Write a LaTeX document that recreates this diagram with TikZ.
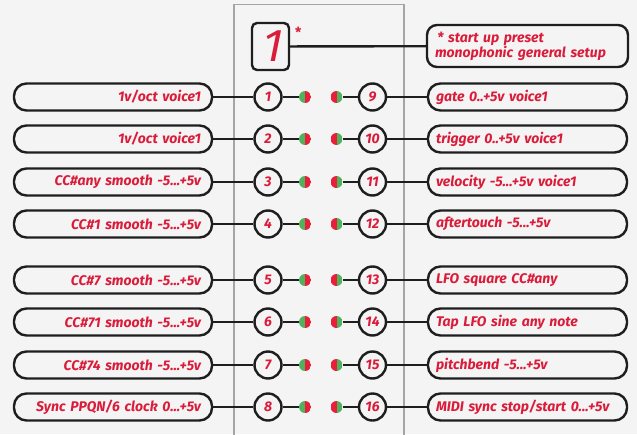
\documentclass[tikz,border=0pt]{standalone}
\usepackage{fontspec}
\setmainfont{Fira Sans}
\usetikzlibrary{positioning}
\definecolor{bg}{RGB}{244,244,244}
\definecolor{panel}{RGB}{165,165,165}
\definecolor{txt}{RGB}{218,28,58}
\definecolor{ledred}{RGB}{232,30,58}
\definecolor{ledgreen}{RGB}{80,178,92}
\definecolor{ink}{RGB}{30,30,30}

\begin{document}
\begin{tikzpicture}[
    x=1pt, y=-1pt,
    lbox/.style={rectangle, draw=ink, line width=2.4pt, rounded corners=12.5pt, minimum width=198pt, minimum height=27pt, inner xsep=11pt, text width=176pt, align=right, text=txt, font=\fontsize{14}{16}\selectfont\bfseries\itshape},
    rbox/.style={lbox, inner xsep=8pt, text width=183pt, align=left},
    pin/.style={circle, draw=ink, line width=2.4pt, minimum size=27pt, inner sep=0pt, text=txt, font=\fontsize{14}{16}\selectfont\bfseries\itshape},
    ledl/.style={circle, minimum size=12pt, inner sep=0pt, path picture={
        \fill[ledgreen] (path picture bounding box.south west) rectangle (path picture bounding box.north);
        \fill[ledred] (path picture bounding box.south) rectangle (path picture bounding box.north east);}},
    ledr/.style={circle, minimum size=12pt, inner sep=0pt, path picture={
        \fill[ledred] (path picture bounding box.south west) rectangle (path picture bounding box.north);
        \fill[ledgreen] (path picture bounding box.south) rectangle (path picture bounding box.north east);}},
    wire/.style={draw=ink, line width=2.4pt}
]

% Background and panel
\fill[bg] (0,0) rectangle (637,434);
\useasboundingbox (0,0) rectangle (637,434);
\draw[panel, line width=1.2pt] (234,4.5) rectangle (404,445);

% Display and preset note
\node[draw=ink, line width=2.4pt, rounded corners=5pt, minimum width=37pt, minimum height=47pt, inner sep=0pt, text=txt, font=\fontsize{46}{46}\selectfont\addfontfeature{FakeSlant=0.2}] (disp) at (270.5,46.5) {1};
\node[text=txt, font=\fontsize{14}{14}\selectfont\bfseries, inner sep=0pt] (star) at ([xshift=8pt,yshift=-11pt]disp.north east) {*};
\node[lbox, rounded corners=10pt, minimum width=201pt, minimum height=42pt, text width=185pt, inner xsep=8pt, align=left, font=\fontsize{14}{15}\selectfont\bfseries\itshape] (note) at (527.5,46) {\,* start up preset\\monophonic general setup};
\draw[wire] (disp) -- (note);

% Left pins
\foreach \n/\y in {1/97, 2/139, 3/182, 4/224, 5/280, 6/322, 7/365, 8/407} {
    \node[pin] (p\n) at (268,\y) {\n};
    \node[ledl] (d\n) at (305,\y) {};
    \draw[wire] (p\n) -- (d\n);
}

% Right pins
\foreach \n/\y in {9/97, 10/139, 11/182, 12/224, 13/280, 14/322, 15/365, 16/407} {
    \node[pin] (p\n) at (372.5,\y) {\n};
    \node[ledr] (d\n) at (336.5,\y) {};
    \draw[wire] (d\n) -- (p\n);
}

% Left labels
\node[lbox] (l1) at (113,97) {1v/oct voice1};
\node[lbox] (l2) at (113,139) {1v/oct voice1};
\node[lbox] (l3) at (113,182) {CC\#any smooth -5...+5v};
\node[lbox] (l4) at (113,224) {CC\#1 smooth -5...+5v};
\node[lbox] (l5) at (113,280) {CC\#7 smooth -5...+5v};
\node[lbox] (l6) at (113,322) {CC\#71 smooth -5...+5v};
\node[lbox] (l7) at (113,365) {CC\#74 smooth -5...+5v};
\node[lbox] (l8) at (113,407) {Sync PPQN/6 clock 0...+5v};

% Right labels
\node[rbox] (r9) at (527.5,97) {gate 0..+5v voice1};
\node[rbox] (r10) at (527.5,139) {trigger 0..+5v voice1};
\node[rbox] (r11) at (527.5,182) {velocity -5...+5v voice1};
\node[rbox] (r12) at (527.5,224) {aftertouch -5...+5v};
\node[rbox] (r13) at (527.5,280) {LFO square CC\#any};
\node[rbox] (r14) at (527.5,322) {Tap LFO sine any note};
\node[rbox] (r15) at (527.5,365) {pitchbend -5...+5v};
\node[rbox] (r16) at (527.5,407) {MIDI sync stop/start 0...+5v};

% Wires to labels
\foreach \n in {1,...,8} \draw[wire] (l\n) -- (p\n);
\foreach \n in {9,...,16} \draw[wire] (p\n) -- (r\n);

\end{tikzpicture}
\end{document}
